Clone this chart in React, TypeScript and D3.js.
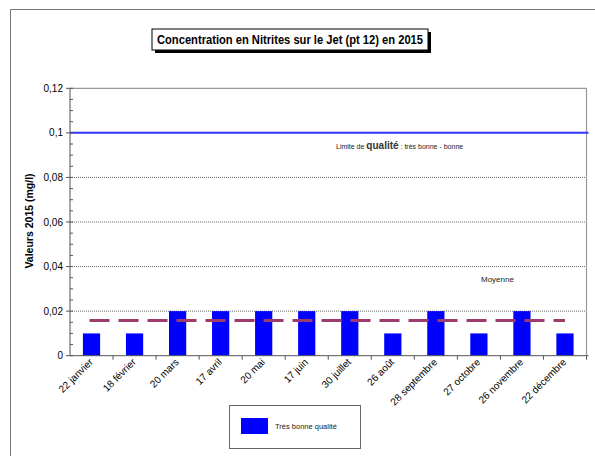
import React from "react";
import * as d3 from "d3";

const categories = ["22 janvier", "18 février", "20 mars", "17 avril", "20 mai", "17 juin", "30 juillet", "26 août", "28 septembre", "27 octobre", "26 novembre", "22 décembre"];
const values = [0.01, 0.01, 0.02, 0.02, 0.02, 0.02, 0.02, 0.01, 0.02, 0.01, 0.02, 0.01];
const yTicks = [0, 0.02, 0.04, 0.06, 0.08, 0.1, 0.12];
const yTickLabels = ["0", "0,02", "0,04", "0,06", "0,08", "0,1", "0,12"];
const limitValue = 0.1;
const title = "Concentration en Nitrites sur le Jet (pt 12) en 2015";
const yLabel = "Valeurs 2015 (mg/l)";
const legendLabel = "Très bonne qualité";

export default function App() {
  const W = 595, H = 456;
  const left = 70, right = 586.5, top = 88.3, bottom = 355.7;
  const x = d3.scaleBand<string>().domain(categories).range([left, right]).paddingInner(0.6).paddingOuter(0.3);
  const xb = d3.scaleBand<string>().domain(categories).range([left, right]);
  const y = d3.scaleLinear().domain([0, 0.12]).range([bottom, top]);
  const mean = d3.mean(values) as number;
  const minor = d3.range(0, 0.1201, 0.005);
  const font = "Liberation Sans, Arial, sans-serif";

  return (
    <svg width={W} height={H} style={{ position: "absolute", left: 0, top: 0 }} fontFamily={font}>
      <rect x={0} y={0} width={W} height={H} fill="#fff" />
      {/* outer frame */}
      <line x1={10.5} y1={9.5} x2={W} y2={9.5} stroke="#777" strokeWidth={1} />
      <line x1={10.5} y1={9.5} x2={10.5} y2={H} stroke="#777" strokeWidth={1} />

      {/* title */}
      <rect x={155} y={32} width={276} height={21} fill="#000" />
      <rect x={152} y={29} width={276} height={21} fill="#fff" stroke="#000" strokeWidth={1} />
      <text x={157} y={44} fontSize={12} fontWeight="bold" textLength={266} lengthAdjust="spacingAndGlyphs">{title}</text>

      {/* gridlines */}
      {yTicks.filter(t => t > 0 && t < 0.12 && t !== limitValue).map(t => (
        <line key={t} x1={left} x2={right} y1={y(t)} y2={y(t)} stroke="#666" strokeWidth={1} strokeDasharray="1,1" />
      ))}
      {/* plot border top & right */}
      <line x1={left} x2={right} y1={top} y2={top} stroke="#999" strokeWidth={1.2} />
      <line x1={right} x2={right} y1={top} y2={bottom} stroke="#999" strokeWidth={1.2} />

      {/* bars */}
      {categories.map((c, i) => (
        <rect key={c} x={x(c)} y={y(values[i])} width={x.bandwidth()} height={bottom - y(values[i])} fill="#0000ff" />
      ))}

      {/* limit line */}
      <line x1={left} x2={588.5} y1={y(limitValue)} y2={y(limitValue)} stroke="#3333ff" strokeWidth={2} />

      {/* mean line */}
      <line x1={(xb(categories[0]) as number) + xb.bandwidth() / 2 - 2} x2={(xb(categories[categories.length - 1]) as number) + xb.bandwidth() / 2}
        y1={y(mean)} y2={y(mean)} stroke="#9e3a6c" strokeWidth={3} strokeDasharray="20,9" />

      {/* axes */}
      <line x1={left} x2={left} y1={top} y2={bottom} stroke="#555" strokeWidth={1} />
      <line x1={left} x2={right + 2} y1={bottom} y2={bottom} stroke="#555" strokeWidth={1} />
      {minor.map(t => (
        <line key={"m" + t} x1={left} x2={left + 3} y1={y(t)} y2={y(t)} stroke="#555" strokeWidth={1} />
      ))}
      {yTicks.map((t, i) => (
        <g key={"t" + t}>
          <line x1={left - 4} x2={left} y1={y(t)} y2={y(t)} stroke="#555" strokeWidth={1} />
          <text x={left - 7} y={y(t) + 3.5} textAnchor="end" fontSize={10} fill="#000">{yTickLabels[i]}</text>
        </g>
      ))}
      {categories.map(c => (
        <line key={"xt" + c} x1={(xb(c) as number) + xb.bandwidth()} x2={(xb(c) as number) + xb.bandwidth()} y1={bottom} y2={bottom + 4} stroke="#555" strokeWidth={1} />
      ))}
      {categories.map(c => {
        const cx = (xb(c) as number) + xb.bandwidth() / 2 + 2;
        const cy = bottom + 7;
        return (
          <text key={"xl" + c} x={cx} y={cy} textAnchor="end" fontSize={10} transform={`rotate(-45 ${cx} ${cy})`}>{c}</text>
        );
      })}

      {/* y label */}
      <text transform={`translate(33,221) rotate(-90)`} textAnchor="middle" fontSize={10.5} fontWeight="bold">{yLabel}</text>

      {/* annotations */}
      <text x={336} y={149} fontSize={7} fill="#222">Limite de <tspan fontSize={10} fontWeight="bold" fill="#333">qualité</tspan> : très bonne - bonne</text>
      <text x={481} y={282} fontSize={8} fill="#222">Moyenne</text>

      {/* legend */}
      <rect x={229.5} y={405.5} width={131} height={43} fill="#fff" stroke="#666" strokeWidth={1} />
      <rect x={241} y={418} width={27} height={16} fill="#0000ff" />
      <text x={275} y={428.5} fontSize={7.5} fill="#222">{legendLabel}</text>
    </svg>
  );
}
